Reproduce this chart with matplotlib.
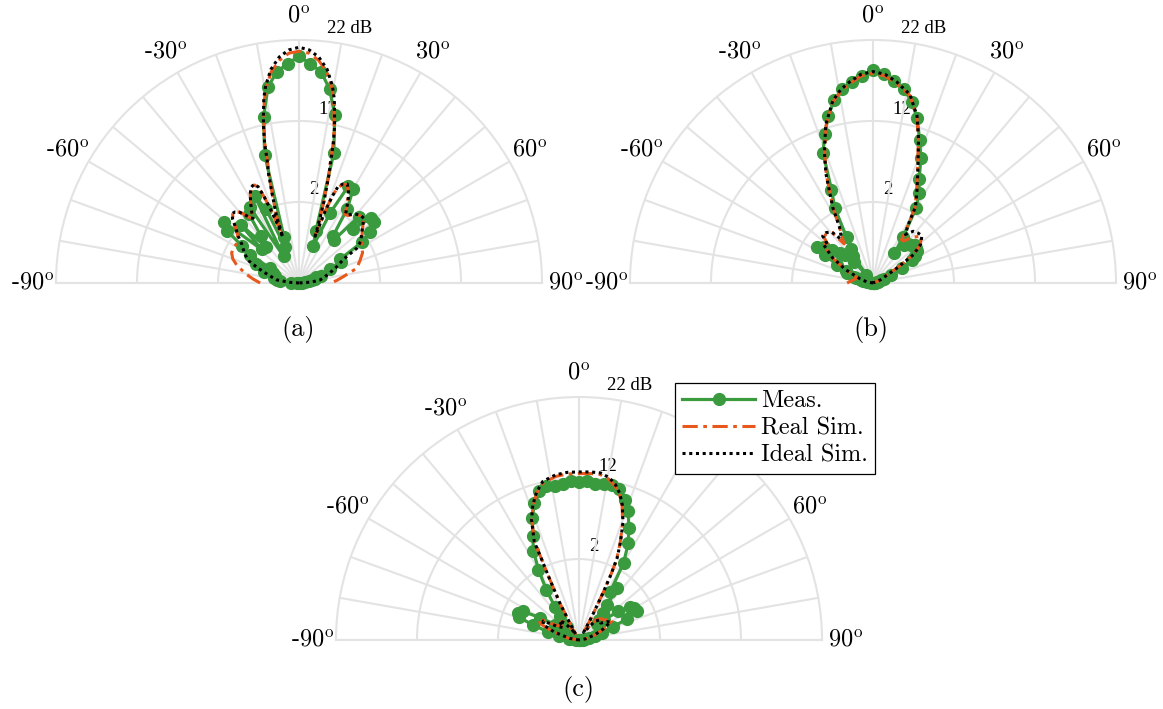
import numpy as np
import matplotlib
matplotlib.use('Agg')
import matplotlib.pyplot as plt

plt.rcParams['font.family'] = ['cmr10', 'DejaVu Serif']
plt.rcParams['mathtext.fontset'] = 'cm'
plt.rcParams['axes.unicode_minus'] = False

GREEN = '#3a9a3e'
ORANGE = '#e8581c'
GRID = '#e3e3e3'
R_MIN, R_MAX = -8, 22

# ---------------- (a) ----------------
a_meas_ang = [-90, -87, -84, -81, -78, -75, -72, -69, -66, -63, -60, -57, -54, -51, -48, -45,
              -42, -39, -36, -33, -30, -27, -24, -21, -18, -15, -12, -9, -6, -3, 0,
              3, 6, 9, 12, 15, 18, 21, 24, 27, 30, 33, 36, 39, 42, 45, 48, 51, 54, 57, 60,
              63, 66, 69, 72, 75, 78, 81, 84, 87, 90]
a_meas_db = [-7.8, -7.0, -5.6, -5.3, -4.8, -4.9, -3.5, -4.6, -2.2, -4.0, -1.0, 0.4, 3.0, 3.9, -1.8, 2.2,
             -2.0, -0.6, 2.5, 3.2, -4.2, 4.0, 2.0, -3.3, -2.0, 8.4, 13.0, 16.5, 18.2, 19.1, 20.0,
             19.1, 18.2, 16.2, 13.2, 8.6, -1.3, -3.1, 1.5, 5.4, 5.4, 2.9, -0.9, -1.2, 3.0, 1.5, 3.9, 3.9, 2.8, 1.3, -2.2,
             -2.2, -3.8, -5.8, -5.2, -6.0, -6.3, -6.8, -7.2, -7.6, -8.0]

a_ideal_ang = [-90, -86, -82, -75, -70, -66.5, -62, -56, -52, -49.5, -46, -44, -42, -40, -38.5, -37,
               -35.5, -34, -31, -28.5, -26.5, -24.5, -23, -22, -21, -20, -19.5, -18.5, -17, -15.5,
               -14.7, -13.8, -12.8, -12, -10.8, -9.6, -7.5, -5, -2.5, 0,
               2.5, 5, 7.5, 9.6, 10.8, 12, 12.8, 13.8, 14.7, 15.5, 17, 18.3, 19, 20, 21, 22, 24, 26,
               28, 30, 32, 34, 36, 38.5, 42, 45, 48, 52, 56, 59, 62, 67, 72, 77, 82, 86, 90]
a_ideal_db = [-8.0, -6.8, -5.2, -4.0, -2.6, -1.3, -0.4, 0.5, 1.6, 2.2, 3.4, 3.9, 3.8, 3.4, 2.8, 2.1,
              1.8, 2.4, 3.6, 4.6, 5.2, 5.4, 4.9, 3.5, 1.5, -0.5, -2.0, 0.8, 3.1, 6.2,
              7.3, 9.8, 11.8, 13.1, 15.2, 16.7, 18.6, 20.0, 20.8, 21.1,
              20.8, 20.0, 18.6, 16.7, 15.2, 13.1, 11.8, 9.8, 7.3, 5.8, 2.6, -0.5, -1.9, 1.5, 3.5, 4.8, 5.4, 5.6,
              5.0, 4.2, 3.2, 2.3, 2.4, 2.9, 3.3, 3.3, 2.6, 1.8, 1.2, 0.3, -1.8, -3.0, -4.0, -4.8, -5.4, -6.5, -8.0]

a_real_ang = [-90, -85, -81, -77, -74, -70, -66, -62, -58, -52, -49.5, -46, -44, -42, -40, -38.5, -37,
              -35.5, -34, -31, -28.5, -26.5, -24.5, -23, -22, -21, -20, -19.5, -18.5, -17, -15.5,
              -14.7, -13.8, -12.8, -12, -10.8, -9.6, -7.5, -5, -2.5, 0,
              2.5, 5, 7.5, 9.6, 10.8, 12, 12.8, 13.8, 14.7, 15.5, 17, 18.3, 19, 20, 21, 22, 24, 26,
              28, 30, 32, 34, 36, 38.5, 42, 45, 48, 52, 56, 60, 64.5, 70, 75.7, 82, 86, 88]
a_real_db = [-3.2, -2.3, -1.5, -0.7, 0.0, 0.7, 1.1, 1.2, 1.1, 1.6, 2.2, 3.3, 3.8, 3.8, 3.4, 2.8, 2.1,
             1.8, 2.4, 3.6, 4.6, 5.1, 5.3, 4.8, 3.4, 1.4, -0.5, -1.8, 0.8, 3.0, 6.0,
             7.1, 9.6, 11.5, 12.8, 14.9, 16.4, 18.3, 19.6, 20.4, 20.6,
             20.4, 19.6, 18.3, 16.4, 14.9, 12.8, 11.5, 9.6, 7.1, 5.6, 2.5, -0.4, -1.7, 1.4, 3.4, 4.7, 5.3, 5.5,
             4.9, 4.1, 3.1, 2.2, 2.3, 2.8, 3.2, 3.2, 2.6, 1.9, 1.3, 0.9, 0.7, 0.0, -0.65, -2.5, -3.3, -3.7]

# ---------------- (b) ----------------
b_meas_ang = a_meas_ang
b_meas_db = [-8.0, -7.8, -7.2, -6.8, -6.5, -5.8, -5.5, -4.6, -4.3, -3.0, -1.2, 0.2, -0.5, -1.5, -2.5, -3.1,
             -4.5, -6.7, -3.9, -3.0, -1.5, 2.4, 4.6, 9.2, 11.3, 13.3, 15.1, 16.2, 16.9, 17.6, 18.3,
             17.8, 17.1, 16.3, 14.9, 13.1, 10.6, 8.5, 6.0, 4.5, 2.7, -1.2, -3.5, -2.0, -1.6, -1.4, -1.0, -1.2, -1.3, -1.8, -2.4,
             -4.0, -5.6, -6.5, -7.0, -7.3, -7.5, -7.7, -7.8, -7.9, -8.0]

b_ideal_ang = [-90, -80, -72, -64, -58, -52, -49, -47, -43, -39, -36.5, -34.3, -31, -28, -23.3, -20.3,
               -16.6, -12.5, -9.5, -6.6, -3.3, 0, 3.3, 6.7, 11.1, 14.8, 17.5, 21.8, 25.5, 29.2,
               31, 33.7, 36, 38, 42, 46, 51, 55, 58, 67, 90]
b_ideal_db = [-8.0, -7.2, -6.3, -4.2, -2.1, -0.2, -0.4, 0.5, 0.5, 0.1, -1.2, -1.0, 0.0, 2.6, 6.7, 9.3,
              12.4, 15.0, 16.2, 17.0, 17.8, 18.1, 17.8, 17.0, 15.7, 13.3, 10.7, 6.9, 4.6, 2.75,
              0.5, -0.8, -0.3, 0.1, 0.3, 0.4, -0.45, -1.9, -4.5, -7.0, -8.0]

b_real_ang = [-90, -80, -72, -64, -58, -52, -49, -47, -43, -39, -36.5, -34.3, -31, -28, -23.3, -20.3,
              -16.6, -12.5, -9.5, -6.6, -3.3, 0, 3.3, 6.7, 11.1, 14.8, 17.5, 21.8, 25.5, 29.2,
              31, 33.5, 36, 41, 46, 51, 55, 58, 67, 90]
b_real_db = [-4.8, -5.6, -6.0, -4.1, -2.0, -0.3, -0.5, 0.3, 0.4, 0.0, -2.0, -1.3, 0.0, 2.5, 6.6, 9.2,
             12.3, 14.9, 16.0, 16.8, 17.6, 17.9, 17.6, 16.8, 15.6, 13.2, 10.6, 6.8, 4.5, 2.6,
             0.5, -1.6, -1.6, -0.5, 0.3, -0.5, -1.9, -4.4, -7.0, -8.0]

# ---------------- (c) ----------------
c_meas_ang = a_meas_ang
c_meas_db = [-8.0, -7.6, -7.2, -6.8, -5.5, -4.0, -2.0, 0.0, 0.3, -0.2, -2.5, -4.5, -5.5, -6.0, -5.0, -4.6,
             -5.8, -4.2, -3.0, -0.6, 2.0, 4.4, 6.0, 8.1, 9.8, 11.1, 11.5, 11.2, 11.4, 11.6, 11.5,
             11.6, 11.4, 11.5, 11.6, 11.3, 10.2, 9.0, 7.1, 5.4, 3.0, -0.9, 0.0, -2.5, -3.5, -4.5, -5.0, -4.0, -2.0, -0.5, -0.2,
             0.0, -1.5, -3.5, -5.0, -6.0, -6.8, -7.2, -7.5, -7.8, -8.0]

c_ideal_ang = [-90, -80, -72, -67, -62, -58, -52, -46, -40, -34, -30, -28.8, -27.4, -25.5, -24.8, -24.5,
               -21.5, -18.9, -16, -12.8, -8, -4, 0, 4, 7.3, 10.5, 13.2, 15.5, 17.8, 20.5, 23, 25,
               26, 27, 29, 31, 35, 40, 46, 52, 56.5, 60, 66, 72, 80, 90]
c_ideal_db = [-8.0, -6.8, -4.8, -3.2, -3.0, -4.8, -5.5, -4.6, -5.2, -6.5, -7.2, -6.1, -2.9, 1.0, 3.1, 5.3,
              8.0, 9.6, 11.0, 12.1, 12.6, 12.75, 12.75, 12.8, 12.8, 12.4, 11.7, 10.8, 9.5, 7.5, 5.1, 3.1,
              1.0, -1.5, -5.0, -6.9, -6.5, -5.0, -4.4, -4.6, -3.9, -3.5, -4.8, -6.0, -7.2, -8.0]

c_real_ang = c_ideal_ang
c_real_db = [-8.0, -6.6, -4.5, -2.8, -2.4, -4.4, -5.3, -4.5, -5.1, -6.4, -7.1, -6.0, -2.8, 1.0, 3.0, 5.2,
             7.9, 9.5, 10.9, 11.9, 12.4, 12.55, 12.55, 12.6, 12.6, 12.2, 11.5, 10.7, 9.4, 7.4, 5.0, 3.0,
             1.0, -1.5, -5.0, -6.8, -6.3, -4.7, -4.2, -4.0, -3.3, -3.3, -4.6, -5.9, -7.1, -8.0]

TICK_ANGLES = [-90, -60, -30, 0, 30, 60, 90]
RING_VALUES = [2, 12, 22]
RING_LABELS = ['2', '12', '22 dB']


def draw_panel(ax, meas, real, ideal):
    ax.set_theta_zero_location('N')
    ax.set_theta_direction(-1)
    ax.set_thetamin(-90)
    ax.set_thetamax(90)
    ax.set_rlim(R_MIN, R_MAX)
    ax.set_thetagrids(range(-90, 91, 10), labels=[])
    ax.set_rgrids([2, 12], labels=[])
    ax.grid(color=GRID, lw=1.5)
    for name, sp in ax.spines.items():
        sp.set_color(GRID)
        sp.set_linewidth(1.5)
    ax.spines['inner'].set_visible(False)
    ax.tick_params(length=0)

    for a in TICK_ANGLES:
        ax.text(np.radians(a), 24.9, f'{a}$^{{\\rm o}}$', ha='center', va='center', fontsize=17.5)
    for v, t in zip(RING_VALUES, RING_LABELS):
        ax.text(np.radians(6.3), v + 1.6, t, ha='left', va='center', fontsize=13.5,
                family='Liberation Serif', zorder=1)

    ax.plot(np.radians(meas[0]), meas[1], '-o', color=GREEN, lw=2.3, ms=8.5,
            zorder=3, clip_on=False, label='Meas.')
    ax.plot(np.radians(real[0]), real[1], color=ORANGE, lw=2.2,
            ls=(0, (5, 1.8, 1.2, 1.8)), zorder=4, clip_on=False, label='Real Sim.')
    ax.plot(np.radians(ideal[0]), ideal[1], color='black', lw=2.2,
            ls=(0, (1, 1.2)), zorder=5, clip_on=False, label='Ideal Sim.')


fig = plt.figure(figsize=(11.63, 7.09), dpi=100)

# polar half-discs sit in the middle of a square box, so the boxes are square
ax_a = fig.add_axes([0.04815, 0.4295, 0.4179, 0.6855], projection='polar')
ax_b = fig.add_axes([0.5417, 0.4295, 0.4179, 0.6855], projection='polar')
ax_c = fig.add_axes([0.2889, -0.0741, 0.4179, 0.6855], projection='polar')

draw_panel(ax_a, (a_meas_ang, a_meas_db), (a_real_ang, a_real_db), (a_ideal_ang, a_ideal_db))
draw_panel(ax_b, (b_meas_ang, b_meas_db), (b_real_ang, b_real_db), (b_ideal_ang, b_ideal_db))
draw_panel(ax_c, (c_meas_ang, c_meas_db), (c_real_ang, c_real_db), (c_ideal_ang, c_ideal_db))

fig.text(0.2562, 0.5346, '(a)', ha='center', va='center', fontsize=19)
fig.text(0.7489, 0.5346, '(b)', ha='center', va='center', fontsize=19)
fig.text(0.4970, 0.0268, '(c)', ha='center', va='center', fontsize=19)

handles, labels = ax_c.get_legend_handles_labels()
leg = fig.legend(handles, labels, loc='upper left', bbox_to_anchor=(0.5804, 0.4598),
                 fontsize=17.5, frameon=True, fancybox=False, edgecolor='black', framealpha=1,
                 handlelength=3.0, handletextpad=0.25, borderpad=0.3, labelspacing=0.2,
                 borderaxespad=0, numpoints=1)
leg.get_frame().set_linewidth(0.9)

fig.savefig('out.png', dpi=100)
